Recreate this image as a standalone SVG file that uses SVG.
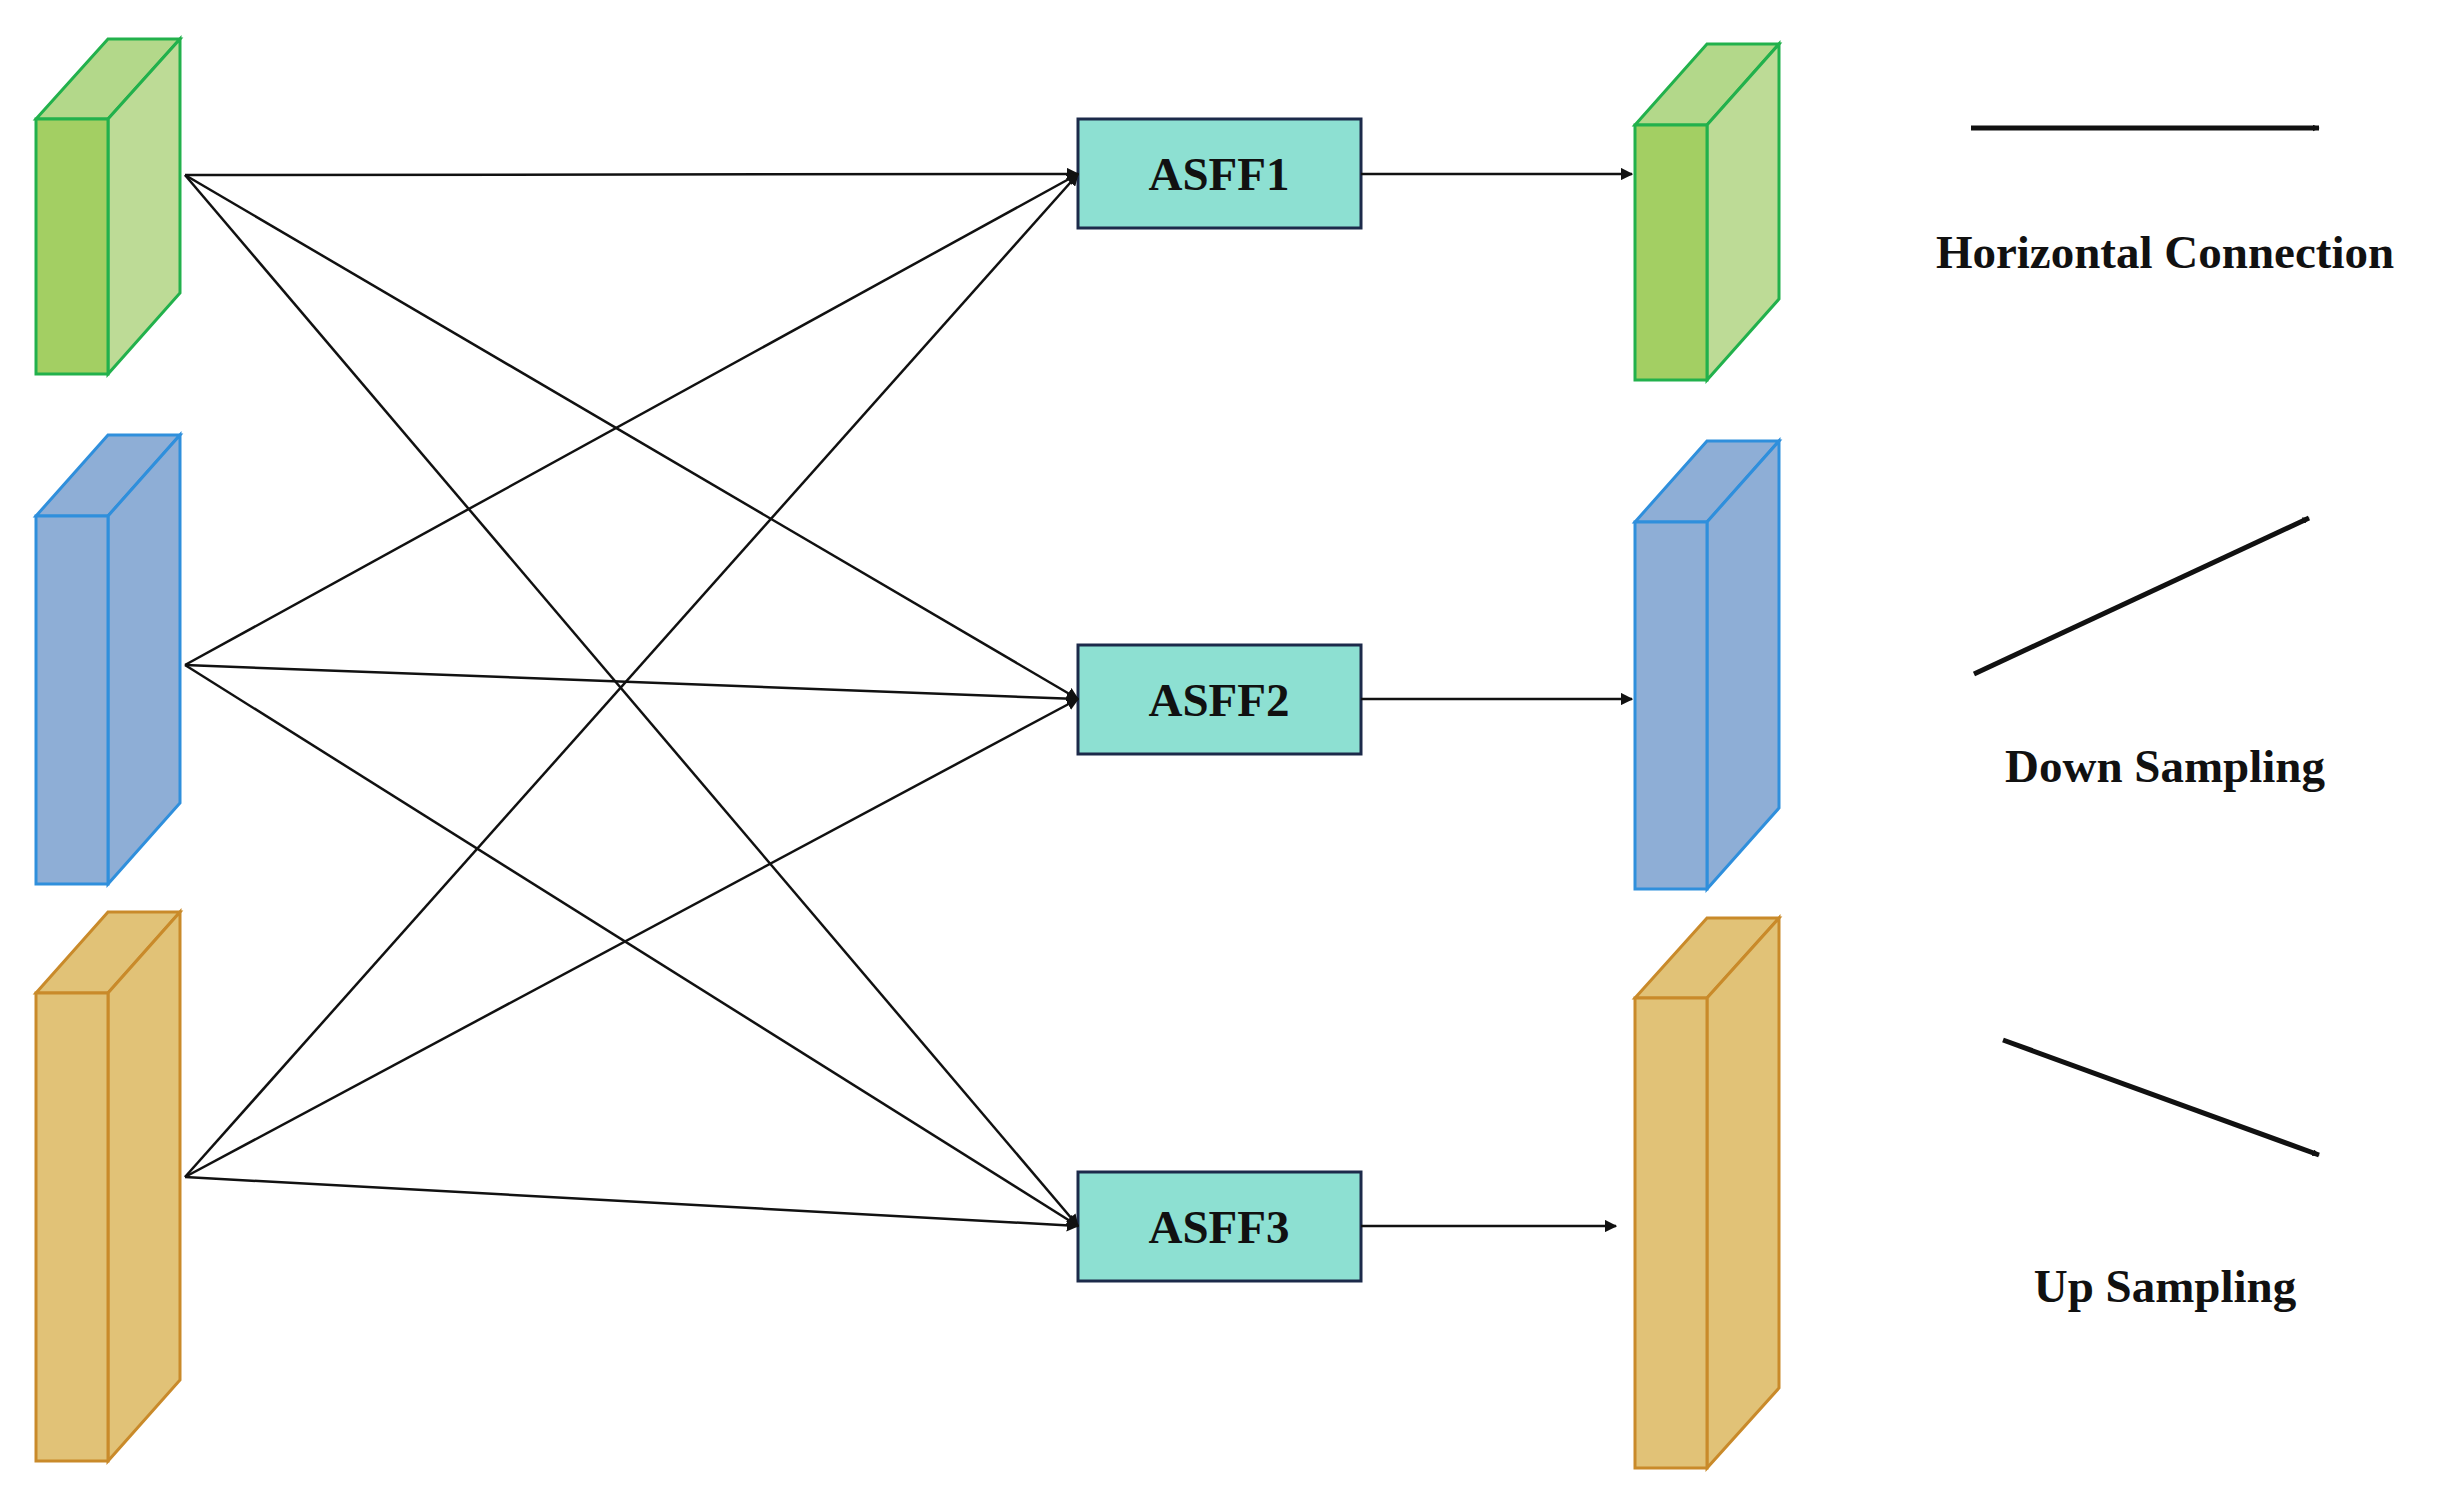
<svg xmlns="http://www.w3.org/2000/svg" width="2453" height="1493" viewBox="0 0 2453 1493">
<style>
.t{font-family:"Liberation Serif",serif;font-weight:bold;font-size:47px;fill:#111;text-anchor:middle}
.c{stroke:#111;stroke-width:2.5;fill:none}
.lg{stroke:#111;stroke-width:5;fill:none}
.box{fill:#8de0d2;stroke:#1c2a4a;stroke-width:3}
</style>
<defs>
<marker id="a" viewBox="0 0 10 10" refX="9" refY="5" markerWidth="7" markerHeight="7" markerUnits="userSpaceOnUse" orient="auto"><path d="M0,0L10,5L0,10z" fill="#111"/></marker>
<marker id="b" viewBox="0 0 10 10" refX="9" refY="5" markerWidth="5" markerHeight="5" orient="auto"><path d="M0,0L10,5L0,10z" fill="#111"/></marker>
</defs>
<g id="in-green" stroke="#22b14c" stroke-width="3">
<polygon points="36,119 108,39 180,39 108,119" fill="#b3d88a"/>
<polygon points="108,119 180,39 180,293 108,374" fill="#bddb96"/>
<rect x="36" y="119" width="72" height="255" fill="#a3cf63"/>
</g>
<g id="in-blue" stroke="#2f8fdc" stroke-width="3">
<polygon points="36,516 108,435 180,435 108,516" fill="#8eaed6"/>
<polygon points="108,516 180,435 180,803 108,884" fill="#8eaed6"/>
<rect x="36" y="516" width="72" height="368" fill="#8eaed6"/>
</g>
<g id="in-orange" stroke="#c98a2a" stroke-width="3">
<polygon points="36,993 108,912 180,912 108,993" fill="#e1c277"/>
<polygon points="108,993 180,912 180,1380 108,1461" fill="#e1c277"/>
<rect x="36" y="993" width="72" height="468" fill="#e1c277"/>
</g>
<g id="out-green" stroke="#22b14c" stroke-width="3">
<polygon points="1635,125 1707,44 1779,44 1707,125" fill="#b3d88a"/>
<polygon points="1707,125 1779,44 1779,299 1707,380" fill="#bddb96"/>
<rect x="1635" y="125" width="72" height="255" fill="#a3cf63"/>
</g>
<g id="out-blue" stroke="#2f8fdc" stroke-width="3">
<polygon points="1635,522 1707,441 1779,441 1707,522" fill="#8eaed6"/>
<polygon points="1707,522 1779,441 1779,808 1707,889" fill="#8eaed6"/>
<rect x="1635" y="522" width="72" height="367" fill="#8eaed6"/>
</g>
<g id="out-orange" stroke="#c98a2a" stroke-width="3">
<polygon points="1635,998 1707,918 1779,918 1707,998" fill="#e1c277"/>
<polygon points="1707,998 1779,918 1779,1388 1707,1468" fill="#e1c277"/>
<rect x="1635" y="998" width="72" height="470" fill="#e1c277"/>
</g>
<g id="asff1"><rect class="box" x="1078" y="119" width="283" height="109"/><text class="t" x="1219" y="190">ASFF1</text></g>
<g id="asff2"><rect class="box" x="1078" y="645" width="283" height="109"/><text class="t" x="1219" y="716">ASFF2</text></g>
<g id="asff3"><rect class="box" x="1078" y="1172" width="283" height="109"/><text class="t" x="1219" y="1243">ASFF3</text></g>
<g id="connectors">
<path class="c" marker-end="url(#b)" d="M185,175L1078,174"/>
<path class="c" marker-end="url(#b)" d="M185,175L1078,699"/>
<path class="c" marker-end="url(#b)" d="M185,175L1078,1226"/>
<path class="c" marker-end="url(#b)" d="M185,665L1078,174"/>
<path class="c" marker-end="url(#b)" d="M185,665L1078,699"/>
<path class="c" marker-end="url(#b)" d="M185,665L1078,1226"/>
<path class="c" marker-end="url(#b)" d="M185,1177L1078,174"/>
<path class="c" marker-end="url(#b)" d="M185,1177L1078,699"/>
<path class="c" marker-end="url(#b)" d="M185,1177L1078,1226"/>
<path class="c" marker-end="url(#b)" d="M1361,174L1632,174"/>
<path class="c" marker-end="url(#b)" d="M1361,699L1632,699"/>
<path class="c" marker-end="url(#b)" d="M1361,1226L1616,1226"/>
</g>
<g id="legend">
<path class="lg" marker-end="url(#a)" d="M1971,128L2319,128"/>
<text class="t" x="2165" y="268">Horizontal Connection</text>
<path class="lg" marker-end="url(#a)" d="M1974,674L2309,518"/>
<text class="t" x="2165" y="782">Down Sampling</text>
<path class="lg" marker-end="url(#a)" d="M2003,1040L2319,1155"/>
<text class="t" x="2165" y="1302">Up Sampling</text>
</g>
</svg>
